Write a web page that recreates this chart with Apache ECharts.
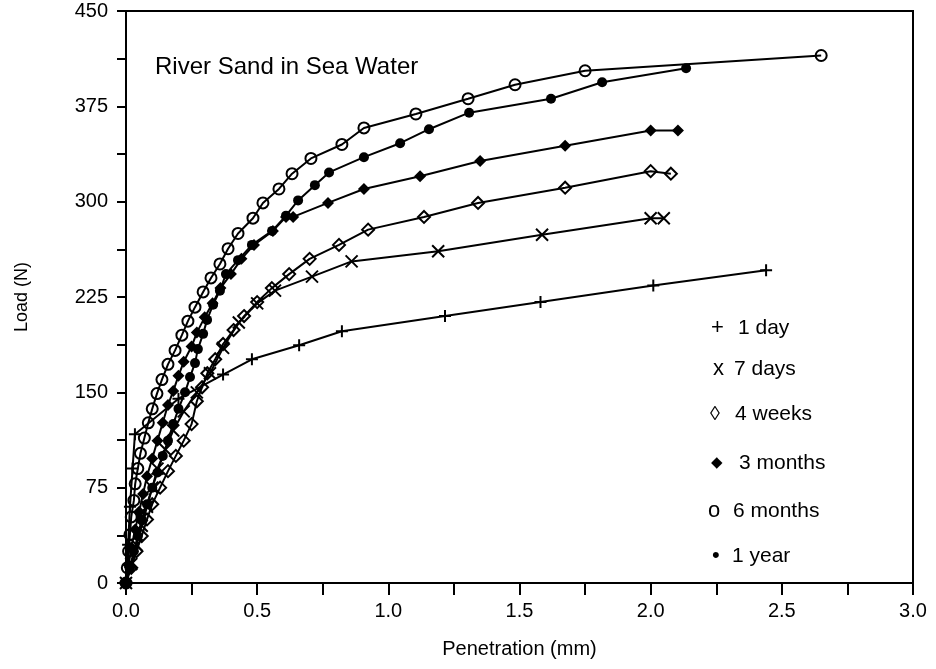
<!DOCTYPE html>
<html>
<head>
<meta charset="utf-8">
<script src="https://cdn.jsdelivr.net/npm/echarts@6/dist/echarts.min.js"></script>
<style>
  html, body { margin: 0; padding: 0; background: #fff; }
  #chart { width: 936px; height: 669px; }
</style>
</head>
<body>
<div id="chart"></div>
<script>
// Load (N) against penetration (mm), river sand mortar cured in sea water
const seriesNames = ['1 day', '7 days', '4 weeks', '3 months', '6 months', '1 year'];

const oneDay = [
  [0, 0], [0.008, 30], [0.015, 60], [0.025, 90], [0.034, 117], [0.2, 145],
  [0.37, 164], [0.48, 176], [0.66, 187], [0.823, 198], [1.216, 210],
  [1.58, 221], [2.01, 234], [2.44, 246]
];
const sevenDays = [
  [0, 0], [0.02, 15], [0.04, 30], [0.06, 45], [0.08, 60], [0.1, 75], [0.12, 90],
  [0.15, 105], [0.18, 120], [0.22, 135], [0.27, 150], [0.32, 165], [0.37, 185],
  [0.43, 205], [0.5, 220], [0.568, 230], [0.709, 241], [0.86, 253],
  [1.19, 261], [1.586, 274], [2.0, 287], [2.05, 287]
];
const fourWeeks = [
  [0, 0], [0.02, 12], [0.04, 25], [0.06, 37], [0.08, 50], [0.1, 62], [0.13, 75],
  [0.16, 88], [0.19, 100], [0.22, 112], [0.25, 125], [0.27, 143], [0.29, 154],
  [0.31, 165], [0.34, 176], [0.37, 188], [0.41, 199], [0.45, 210], [0.5, 221],
  [0.556, 232], [0.622, 243], [0.70, 255], [0.812, 266], [0.923, 278],
  [1.136, 288], [1.342, 299], [1.674, 311], [2.0, 324], [2.077, 322]
];
const threeMonths = [
  [0, 0], [0.01, 14], [0.02, 28], [0.035, 42], [0.05, 56], [0.065, 70],
  [0.08, 84], [0.1, 98], [0.12, 112], [0.14, 126], [0.16, 140], [0.18, 151],
  [0.2, 163], [0.22, 174], [0.25, 186], [0.27, 197], [0.3, 209], [0.33, 220],
  [0.36, 232], [0.4, 243], [0.44, 255], [0.488, 266], [0.56, 277], [0.61, 288],
  [0.637, 288], [0.77, 299], [0.907, 310], [1.121, 320], [1.35, 332],
  [1.674, 344], [2.0, 356], [2.104, 356]
];
const sixMonths = [
  [0, 0], [0.005, 12], [0.01, 25], [0.015, 38], [0.02, 52], [0.03, 65],
  [0.035, 78], [0.045, 90], [0.055, 102], [0.07, 114], [0.085, 126], [0.1, 137],
  [0.118, 149], [0.137, 160], [0.16, 172], [0.187, 183], [0.213, 195],
  [0.236, 206], [0.263, 217], [0.294, 229], [0.324, 240], [0.358, 251],
  [0.389, 263], [0.427, 275], [0.484, 287], [0.522, 299], [0.583, 310],
  [0.633, 322], [0.705, 334], [0.823, 345], [0.907, 358], [1.105, 369],
  [1.304, 381], [1.483, 392], [1.75, 403], [2.65, 415]
];
const oneYear = [
  [0, 0], [0.015, 12], [0.03, 25], [0.045, 37], [0.06, 50], [0.08, 62],
  [0.1, 75], [0.12, 87], [0.14, 100], [0.16, 112], [0.18, 125], [0.2, 137],
  [0.225, 150], [0.244, 162], [0.263, 173], [0.274, 184], [0.294, 196],
  [0.309, 207], [0.332, 219], [0.358, 230], [0.381, 243], [0.427, 254],
  [0.48, 266], [0.557, 277], [0.61, 289], [0.656, 301], [0.72, 313],
  [0.774, 323], [0.907, 335], [1.045, 346], [1.155, 357], [1.308, 370],
  [1.62, 381], [1.815, 394], [2.135, 405]
];

const xTicks = { min: 0, max: 3.0, interval: 0.5 };
const yTicks = { min: 0, max: 450, interval: 75 };

const FONT = '"Liberation Sans", Arial, Helvetica, sans-serif';
const INK = '#000';

const plusPath = 'path://M10,0 L10,20 M0,10 L20,10';
const crossPath = 'path://M0,0 L20,20 M20,0 L0,20';

function mk(name, data, symbol, size, filled, bw) {
  return {
    name: name,
    type: 'line',
    data: data,
    symbol: symbol,
    symbolSize: size,
    showSymbol: true,
    lineStyle: { color: INK, width: 2 },
    itemStyle: filled
      ? { color: INK, borderColor: INK, borderWidth: 0 }
      : { color: 'rgba(0,0,0,0)', borderColor: INK, borderWidth: bw },
    emphasis: { disabled: true },
    animation: false,
    z: 3
  };
}

const series = [
  mk(seriesNames[0], oneDay, plusPath, 12, false, 2),
  mk(seriesNames[1], sevenDays, crossPath, 12, false, 2),
  mk(seriesNames[2], fourWeeks, 'diamond', 12, false, 2),
  mk(seriesNames[3], threeMonths, 'diamond', 12, true, 0),
  mk(seriesNames[4], sixMonths, 'circle', 11, false, 2),
  mk(seriesNames[5], oneYear, 'circle', 10, true, 0)
];

// Key at the lower right: a typed glyph followed by the series name
const keyGlyphs = ['+', 'x', '\u25CA', '\u25C6', 'o', '\u2022'];
const keyGlyphSize = [22, 22, 20, 15, 22, 22];
const keyGlyphX = [711, 713, 710, 711, 708, 712];
const keyTextX = [738, 734, 735, 739, 733, 732];
const keyY = [328, 369, 414, 463, 511, 556];

const graphics = [];
seriesNames.forEach(function (n, i) {
  graphics.push({
    type: 'text', x: keyGlyphX[i], y: keyY[i],
    style: {
      text: keyGlyphs[i], fill: INK, font: keyGlyphSize[i] + 'px ' + FONT,
      textAlign: 'left', textVerticalAlign: 'middle'
    }
  });
  graphics.push({
    type: 'text', x: keyTextX[i], y: keyY[i],
    style: {
      text: n, fill: INK, font: '21px ' + FONT,
      textAlign: 'left', textVerticalAlign: 'middle'
    }
  });
});
graphics.push({
  type: 'text', x: 155, y: 67,
  style: {
    text: 'River Sand in Sea Water', fill: INK, font: '24px ' + FONT,
    textAlign: 'left', textVerticalAlign: 'middle'
  }
});

const chart = echarts.init(document.getElementById('chart'), null, { renderer: 'canvas' });
chart.setOption({
  backgroundColor: '#fff',
  animation: false,
  grid: {
    left: 126, right: 23, top: 11, bottom: 86,
    show: true, borderColor: INK, borderWidth: 2, backgroundColor: 'transparent'
  },
  xAxis: {
    type: 'value',
    min: xTicks.min, max: xTicks.max, interval: xTicks.interval,
    name: 'Penetration (mm)', nameLocation: 'middle', nameGap: 56,
    nameTextStyle: { color: INK, fontSize: 20, fontFamily: FONT },
    axisLine: { lineStyle: { color: INK, width: 2 } },
    axisTick: { show: true, length: 12, lineStyle: { color: INK, width: 2 } },
    minorTick: { show: true, splitNumber: 2, length: 12, lineStyle: { color: INK, width: 2 } },
    splitLine: { show: false },
    axisLabel: {
      color: INK, fontSize: 20, fontFamily: FONT, margin: 18,
      formatter: function (v) { return v.toFixed(1); }
    }
  },
  yAxis: {
    type: 'value',
    min: yTicks.min, max: yTicks.max, interval: yTicks.interval,
    name: 'Load (N)', nameLocation: 'middle', nameGap: 95,
    nameTextStyle: { color: INK, fontSize: 18, fontFamily: FONT },
    axisLine: { lineStyle: { color: INK, width: 2 } },
    axisTick: { show: true, length: 9, lineStyle: { color: INK, width: 2 } },
    minorTick: { show: true, splitNumber: 2, length: 9, lineStyle: { color: INK, width: 2 } },
    splitLine: { show: false },
    axisLabel: { color: INK, fontSize: 20, fontFamily: FONT, margin: 18 }
  },
  series: series,
  graphic: graphics
});
</script>
</body>
</html>
